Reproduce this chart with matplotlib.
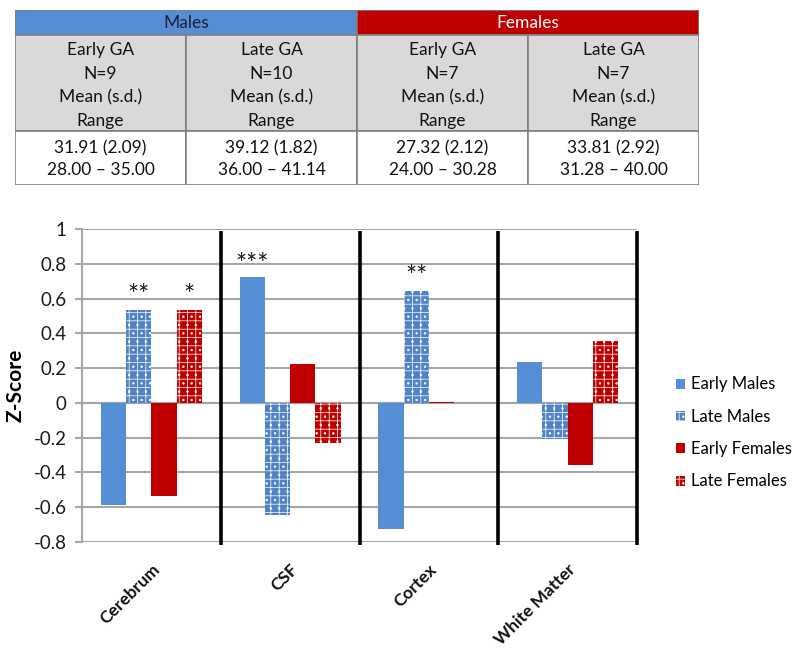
import matplotlib
matplotlib.use("Agg")
import matplotlib.pyplot as plt
from matplotlib.patches import Rectangle, Patch
import numpy as np

plt.rcParams['font.family'] = ['Lato', 'DejaVu Sans']
plt.rcParams['hatch.linewidth'] = 0.5

# ---------------- data ----------------
categories = ["Cerebrum", "CSF", "Cortex", "White Matter"]
series_names = ["Early Males", "Late Males", "Early Females", "Late Females"]
early_males = [-0.585, 0.722, -0.724, 0.238]
late_males = [0.537, -0.644, 0.646, -0.21]
early_females = [-0.537, 0.225, 0.003, -0.36]
late_females = [0.537, -0.229, 0.002, 0.358]
series_values = [early_males, late_males, early_females, late_females]

# significance annotations: (category index, series index, label, y)
sig_cat = [0, 0, 1, 2]
sig_series = [1, 3, 0, 1]
sig_text = ["**", "*", "***", "**"]
sig_y = [0.61, 0.61, 0.79, 0.72]

y_ticks = [-0.8, -0.6, -0.4, -0.2, 0, 0.2, 0.4, 0.6, 0.8, 1]
y_tick_labels = ["-0.8", "-0.6", "-0.4", "-0.2", "0", "0.2", "0.4", "0.6", "0.8", "1"]

# table
table_groups = ["Males", "Females"]
table_heads = ["Early GA\nN=9\nMean (s.d.)\nRange",
               "Late GA\nN=10\nMean (s.d.)\nRange",
               "Early GA\nN=7\nMean (s.d.)\nRange",
               "Late GA\nN=7\nMean (s.d.)\nRange"]
table_means = ["31.91 (2.09)", "39.12 (1.82)", "27.32 (2.12)", "33.81 (2.92)"]
table_ranges = ["28.00 \u2013 35.00", "36.00 \u2013 41.14", "24.00 \u2013 30.28", "31.28 \u2013 40.00"]

# ---------------- style ----------------
c_blue = "#558ed5"
c_blue2 = "#4f83c6"
c_red = "#c00000"
face_colors = [c_blue, c_blue2, c_red, c_red]
hatches = [None, "++..", None, "++.."]
grid_c = "#a6a6a6"

fig = plt.figure(figsize=(8, 6.56), dpi=100)
W, H = 800, 656

# ---------------- table ----------------
tx0, tx1, ty0, ty1 = 15, 699, 10, 185
tab = fig.add_axes([tx0 / W, 1 - ty1 / H, (tx1 - tx0) / W, (ty1 - ty0) / H])
tab.set_xlim(0, 4)
row_h = [25, 96, 54]
tot = sum(row_h)
tab.set_ylim(tot, 0)
tab.axis("off")
border = "#7f7f7f"
tfs = 12.5
for g, name in enumerate(table_groups):
    col = c_blue if g == 0 else c_red
    tab.add_patch(Rectangle((2 * g, 0), 2, row_h[0], facecolor=col,
                            edgecolor=border, lw=1.2))
    tab.text(2 * g + 1, row_h[0] / 2 + 0.5, name, ha="center", va="center",
             fontsize=tfs, color="#1f1f3a" if g == 0 else "white")
for i in range(4):
    tab.add_patch(Rectangle((i, row_h[0]), 1, row_h[1], facecolor="#d9d9d9",
                            edgecolor=border, lw=1.2))
    tab.text(i + 0.5, row_h[0] + row_h[1] / 2 + 2.5, table_heads[i], ha="center",
             va="center", fontsize=tfs, linespacing=1.56, color="#111111")
    tab.add_patch(Rectangle((i, row_h[0] + row_h[1]), 1, row_h[2], facecolor="white",
                            edgecolor=border, lw=1.2))
    tab.text(i + 0.5, row_h[0] + row_h[1] + row_h[2] / 2 + 1,
             table_means[i] + "\n" + table_ranges[i], ha="center", va="center",
             fontsize=tfs, linespacing=1.42, color="#111111")

# ---------------- chart ----------------
ax = fig.add_axes([82 / W, 1 - 542 / H, (637 - 82) / W, (542 - 229) / H])
n_cat = len(categories)
x = np.arange(n_cat)
bw = 0.182
offsets = (np.arange(4) - 1.5) * bw
for s in range(4):
    ax.bar(x + offsets[s], series_values[s], width=bw, color=face_colors[s],
           hatch=hatches[s], edgecolor="white" if hatches[s] else face_colors[s],
           linewidth=0, zorder=3, label=series_names[s])

for ci, si, t, yv in zip(sig_cat, sig_series, sig_text, sig_y):
    ax.text(x[ci] + offsets[si], yv, t, ha="center", va="center", fontsize=19,
            color="#1a1a1a", zorder=5)

ax.set_xlim(-0.5, n_cat - 0.5)
ax.set_ylim(-0.8, 1)
ax.set_yticks(y_ticks)
ax.set_yticklabels(y_tick_labels, fontsize=13.5, color="#1a1a1a")
ax.yaxis.grid(True, color=grid_c, lw=1.5, zorder=1)
ax.axhline(0, color=grid_c, lw=1.5, zorder=1)
for sp in ["top", "right", "bottom"]:
    ax.spines[sp].set_visible(False)
ax.spines["left"].set_color(grid_c)
ax.spines["left"].set_linewidth(1.5)
ax.tick_params(axis="y", color=grid_c, length=5, width=1.5, pad=6)
ax.tick_params(axis="x", length=0, pad=14)
ax.set_xticks(x)
ax.set_xticklabels(categories, rotation=45, ha="right", rotation_mode="anchor",
                   fontsize=12.5, fontweight="bold", color="#111111")
ax.set_ylabel("Z-Score", fontsize=15, fontweight="bold", labelpad=6)

# black category separators
for b in np.arange(0.5, n_cat, 1.0):
    ax.plot([b, b], [-0.82, 0.99], color="black", lw=2.6, clip_on=False, zorder=4,
            solid_capstyle="butt")

handles = [Patch(facecolor=face_colors[s], hatch=hatches[s],
                 edgecolor="white" if hatches[s] else face_colors[s], lw=0)
           for s in range(4)]
fig.legend(handles, series_names, loc="center left",
           bbox_to_anchor=(661 / W, 1 - 433 / H), frameon=False, fontsize=12,
           handlelength=0.55, handleheight=0.55, handletextpad=0.35,
           labelspacing=0.98)

fig.savefig("out.png", dpi=100)
